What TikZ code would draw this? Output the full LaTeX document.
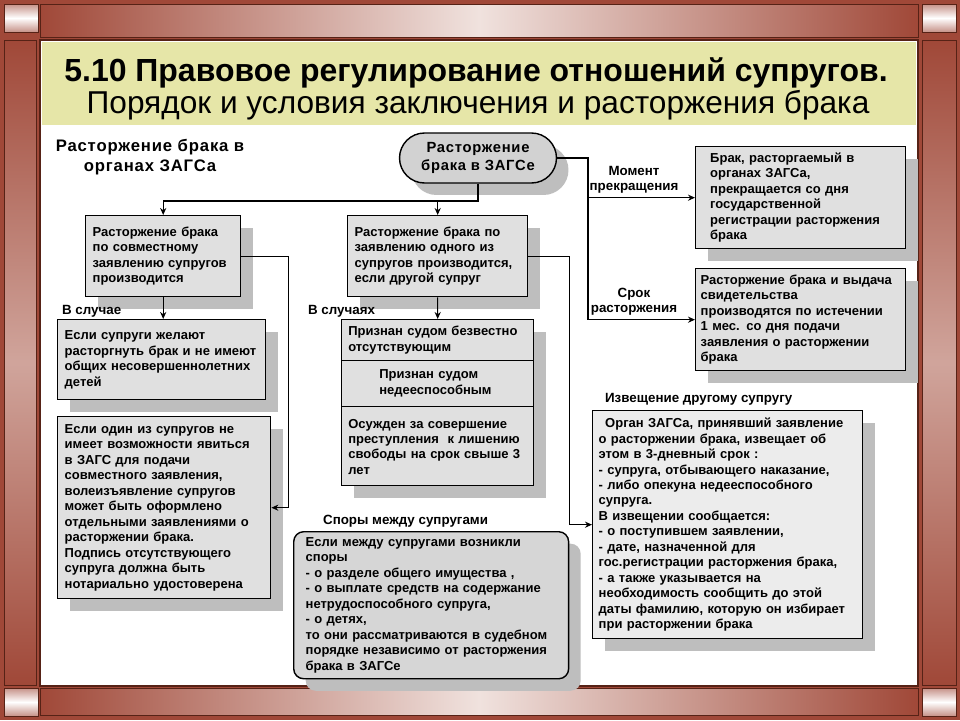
\documentclass[tikz,border=0pt]{standalone}
\usepackage{fontspec}
\setmainfont{Liberation Sans}
\newfontfamily\headfont[LetterSpace=5]{Liberation Sans}
\usepackage{tikz}
\usetikzlibrary{positioning}
\usetikzlibrary{shadows,calc}
\usetikzlibrary{arrows, shapes, arrows.meta}
\definecolor{wood}{RGB}{160,72,56}
\definecolor{wooddark}{RGB}{86,34,22}
\definecolor{woodlight}{RGB}{240,226,222}
\definecolor{titlebg}{RGB}{230,230,168}
\definecolor{boxgray}{RGB}{224,224,224}
\definecolor{ovalgray}{RGB}{210,210,210}
\definecolor{shadowgray}{RGB}{190,190,190}
\tikzstyle{box} = [draw=black, line width=0.8pt, fill=boxgray, anchor=north west, align=left, inner xsep=0.14cm, font=\fontsize{7.4}{8.8}\selectfont\bfseries, general shadow={fill=shadowgray, shadow xshift=0.24cm, shadow yshift=-0.24cm}]
\tikzstyle{cell} = [anchor=north west, align=left, inner xsep=0.14cm, minimum width=3.84cm, text width=3.56cm, font=\fontsize{7.4}{8.8}\selectfont\bfseries]
\tikzstyle{lbl} = [font=\fontsize{7.6}{8.8}\selectfont\bfseries, align=center, inner sep=1pt]
\tikzstyle{wire} = [line width=0.6pt]
\tikzstyle{arrow} = [line width=0.6pt,->,>={Stealth[length=4pt,width=3.5pt]}]

\begin{document}
\begin{tikzpicture}[x=0.02cm,y=-0.02cm] % pixel grid, y down
\useasboundingbox (0,0) rectangle (960,720);
\fill[wood] (0,0) rectangle (960,720);
\shade[left color=wood, right color=wood, middle color=woodlight, draw=wooddark] (40,4) rectangle (918,37);
\shade[left color=wood, right color=wood, middle color=woodlight, draw=wooddark] (40,688) rectangle (918,715);
\shade[top color=wood, bottom color=wood, middle color=woodlight!60!wood, draw=wooddark] (4,40) rectangle (36,685);
\shade[top color=wood, bottom color=wood, middle color=woodlight!60!wood, draw=wooddark] (922,40) rectangle (956,685);
\foreach \cx/\cy in {4/4, 922/4, 4/688, 922/688}
  \shade[top color=wood!60, bottom color=wood!60, middle color=white, draw=wooddark] (\cx,\cy) rectangle ++(34,28);
\filldraw[fill=white, draw=wooddark, line width=1pt] (40,40) rectangle (918,686);
\fill[titlebg] (42,42) rectangle (916,125);
\node[font=\fontsize{18.2}{21}\selectfont\bfseries] (title) at (476,73) {5.10 Правовое регулирование отношений супругов.};
\node[font=\fontsize{18}{21}\selectfont] (subtitle) at (478,105) {Порядок и условия заключения и расторжения брака};

\node[font=\headfont\fontsize{9.5}{11.5}\selectfont\bfseries, align=center] (head) at (150,157) {Расторжение брака в\\органах ЗАГСа};
\node[box, anchor=center, rounded corners=0.5cm, fill=ovalgray, minimum width=3.14cm, minimum height=1cm, align=center, font=\headfont\fontsize{8.4}{10.4}\selectfont\bfseries] (zags) at (478,158) {Расторжение\\брака в ЗАГСе};

\node[box, minimum width=3.1cm, minimum height=1.62cm, text width=2.82cm] (joint) at (85,215) {Расторжение брака\\по совместному\\заявлению супругов\\производится};
\node[box, minimum width=3.6cm, minimum height=1.62cm, text width=3.32cm] (single) at (347,215) {Расторжение брака по\\заявлению одного из\\супругов производится,\\если другой супруг};
\node[box, minimum width=4.16cm, minimum height=1.6cm, text width=3.88cm] (nochild) at (57,319) {Если супруги желают\\расторгнуть брак и не имеют\\общих несовершеннолетних\\детей};
\node[box, minimum width=4.26cm, minimum height=3.64cm, text width=3.98cm] (absent) at (57,416) {Если один из супругов не\\имеет возможности явиться\\в ЗАГС для подачи\\совместного заявления,\\волеизъявление супругов\\может быть оформлено\\отдельными заявлениями о\\расторжении брака.\\Подпись отсутствующего\\супруга должна быть\\нотариально удостоверена};

\node[box, minimum width=3.84cm, minimum height=3.32cm] (cases) at (341,319) {};
\node[cell, minimum height=0.82cm] (case1) at (cases.north west) {Признан судом безвестно\\отсутствующим};
\node[cell, minimum height=0.9cm] (case2) at (case1.south west) {\hspace*{0.62cm}Признан судом\\\hspace*{0.62cm}недееспособным};
\node[cell, minimum height=1.6cm] (case3) at (case2.south west) {Осужден за совершение\\преступления\ \ к лишению\\свободы на срок свыше 3\\лет};
\draw[line width=0.8pt] (case1.south west) -- (case1.south east);
\draw[line width=0.8pt] (case2.south west) -- (case2.south east);

\node[box, rounded corners=0.2cm, fill=ovalgray!70!boxgray, minimum width=5.5cm, minimum height=2.94cm, text width=5.02cm, inner xsep=0.24cm] (disp) at (293,531) {Если между супругами возникли\\споры\\- о разделе общего имущества ,\\- о выплате средств на содержание\\нетрудоспособного супруга,\\- о детях,\\то они рассматриваются в судебном\\порядке независимо от расторжения\\брака в ЗАГСе};

\node[box, minimum width=4.2cm, minimum height=2.04cm, text width=3.62cm, inner xsep=0.29cm] (moment) at (695,146) {Брак, расторгаемый в\\органах ЗАГСа,\\прекращается со дня\\государственной\\регистрации расторжения\\брака};
\node[box, minimum width=4.2cm, minimum height=2.04cm, text width=4.0cm, inner xsep=0.1cm] (term) at (695,268) {Расторжение брака и выдача\\свидетельства\\производятся по истечении\\1 мес. со дня подачи\\заявления о расторжении\\брака};
\node[box, fill=boxgray!60!white, minimum width=5.4cm, minimum height=4.56cm, text width=5.16cm, inner xsep=0.12cm] (notice) at (592,410) {\hspace*{0.5em}Орган ЗАГСа, принявший заявление\\о расторжении брака, извещает об\\этом в 3-дневный срок :\\- супруга, отбывающего наказание,\\- либо опекуна недееспособного\\супруга.\\В извещении сообщается:\\- о поступившем заявлении,\\- дате, назначенной для\\гос.регистрации расторжения брака,\\- а также указывается на\\необходимость сообщить до этой\\даты фамилию, которую он избирает\\при расторжении брака};

\node[lbl, anchor=west] (case) at (60,311) {В случае};
\node[lbl, anchor=west] (casesl) at (306,311) {В случаях};
\node[lbl, anchor=west] (disputes) at (321,521) {Споры между супругами};
\node[lbl, anchor=west] (notify) at (603,399) {Извещение другому супругу};

\coordinate (fork) at (zags.south |- 0,201);
\draw[wire] (zags.south) -- (fork) -- (fork -| joint.north);
\draw[arrow] (fork -| joint.north) -- (joint.north);
\draw[arrow] (fork -| single.north) -- (single.north);
\draw[arrow] (joint.south) -- (joint.south |- nochild.north);
\draw[arrow] (single.south) -- (cases.north);
\draw[arrow] (joint.east) -- ++(47,0) |- (absent.east);
\draw[arrow] (single.east) -- ++(41,0) |- (notice.west);
\coordinate (rail) at (588,0);
\draw[wire] (zags.east) -- (zags.east -| rail) -- (rail |- term.west);
\draw[arrow] (rail |- moment.west) -- node[lbl, above=1pt, pos=0.43] {Момент\\прекращения} (moment.west);
\draw[arrow] (rail |- term.west) -- node[lbl, above=1pt, pos=0.43] {Срок\\расторжения} (term.west);
\end{tikzpicture}
\end{document}
